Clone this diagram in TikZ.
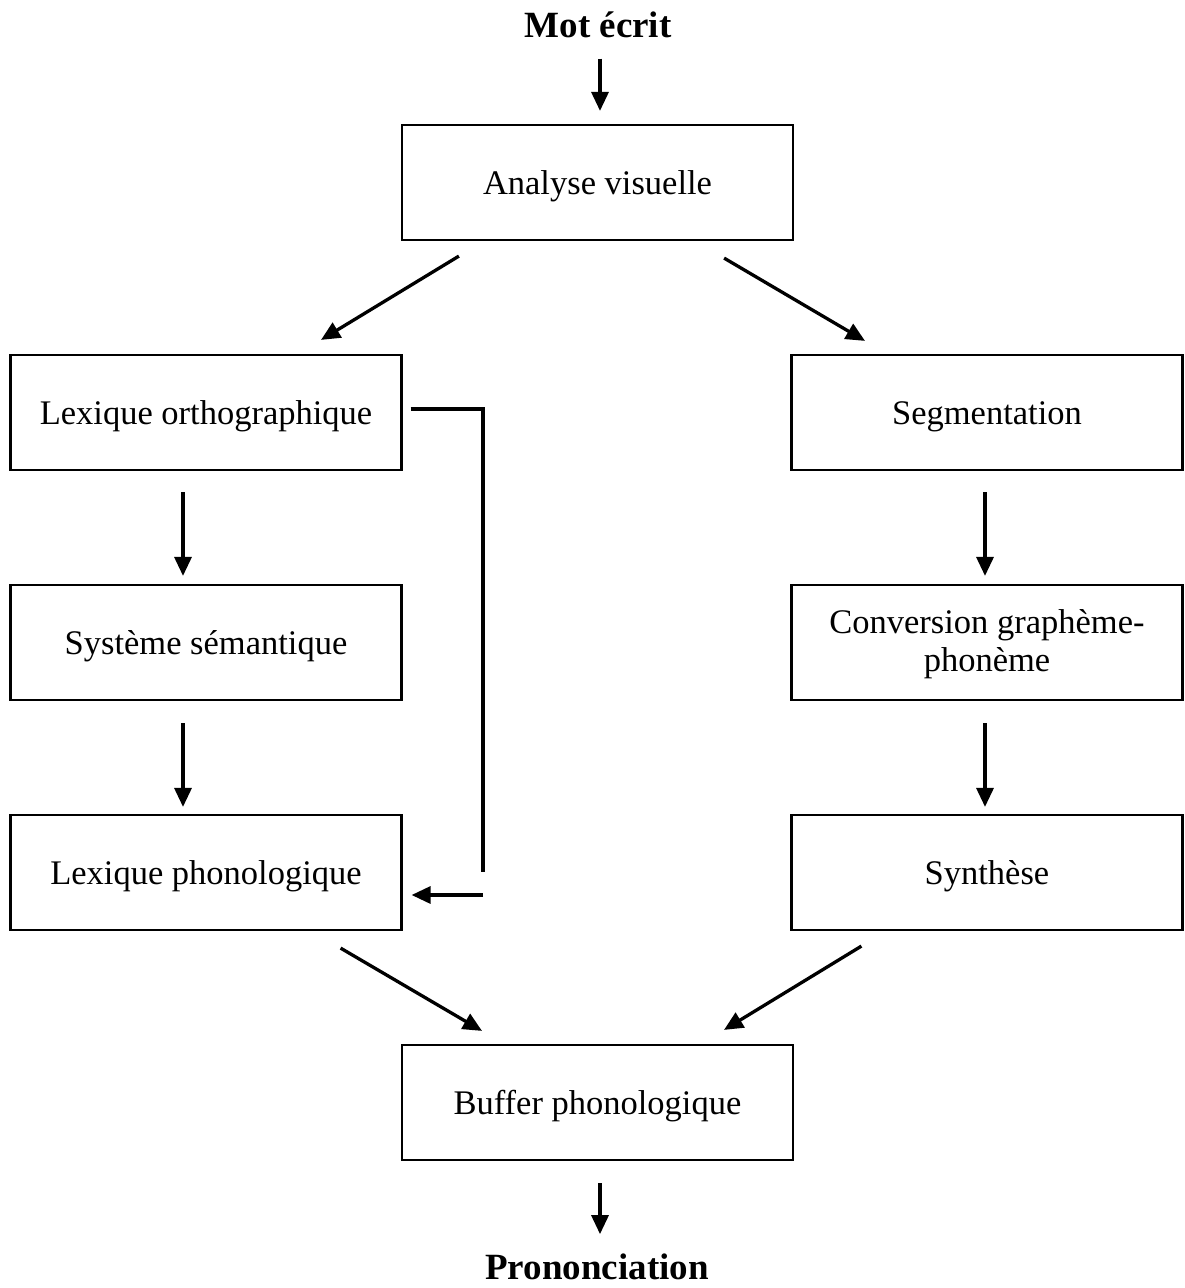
\documentclass[tikz,border=0pt]{standalone}
\usepackage{fontspec}
\setmainfont{Liberation Serif}
\usetikzlibrary{arrows.meta,calc}
\begin{document}
\begin{tikzpicture}[x=1pt,y=-1pt,
  box/.style={draw,line width=2.2pt,minimum width=391pt,minimum height=115pt,
    inner sep=0pt,align=center,font=\fontsize{34.5}{38}\selectfont},
  lbl/.style={inner sep=0pt,align=center,font=\fontsize{34.5}{38}\selectfont},
  title/.style={inner sep=0pt,anchor=base,font=\fontsize{37}{40}\selectfont\bfseries},
  plain/.style={line width=3.3pt},
  arr/.style={line width=3.3pt,-{Triangle[length=19pt,width=17pt]}}]
\useasboundingbox (0,0) rectangle (1185,1288);
\node[title] (mot) at (598,37) {Mot écrit};
\node[title] (pron) at (597,1279) {Prononciation};
\node[box] (ana) at (597.5,182.5) {};
\node[box] (lo) at (206,412.5) {};
\node[box] (seg) at (987,412.5) {};
\node[box] (ss) at (206,642.5) {};
\node[box] (conv) at (987,642.5) {};
\node[box] (lp) at (206,872.5) {};
\node[box] (syn) at (987,872.5) {};
\node[box] (buf) at (597.5,1102.5) {};
\node[lbl] (tana) at ([yshift=-4pt]ana.center) {Analyse visuelle};
\node[lbl] (tlo) at ([yshift=-4pt]lo.center) {Lexique orthographique};
\node[lbl] (tseg) at ([yshift=-4pt]seg.center) {Segmentation};
\node[lbl] (tss) at ([yshift=-4pt]ss.center) {Système sémantique};
\node[lbl] (tconv) at ([yshift=-2pt]conv.center) {Conversion graphème-\\phonème};
\node[lbl] (tlp) at ([yshift=-4pt]lp.center) {Lexique phonologique};
\node[lbl] (tsyn) at ([yshift=-4pt]syn.center) {Synthèse};
\node[lbl] (tbuf) at ([yshift=-4pt]buf.center) {Buffer phonologique};
% top and bottom
\draw[arr,shorten <=21pt,shorten >=13pt] ([xshift=2pt]mot.south) -- ([xshift=2.5pt]ana.north);
\draw[arr,shorten <=22pt,shorten >=19pt] ([xshift=2.5pt]buf.south) -- ([xshift=3pt]pron.north);
% diagonals
\draw[arr] ([shift={(58,15)}]ana.south west) -- ([shift={(115,-14)}]lo.north);
\draw[arr] ([shift={(-70,17)}]ana.south east) -- ([shift={(-122,-13)}]seg.north);
\draw[arr] ([shift={(-62,17)}]lp.south east) -- ([shift={(-115.5,-13)}]buf.north);
\draw[arr] ([shift={(71,15)}]syn.south west) -- ([shift={(126.5,-14)}]buf.north);
% verticals
\draw[arr,shorten <=21pt,shorten >=8pt] ([xshift=-23pt]lo.south) -- ([xshift=-23pt]ss.north);
\draw[arr,shorten <=22pt,shorten >=7pt] ([xshift=-23pt]ss.south) -- ([xshift=-23pt]lp.north);
\draw[arr,shorten <=21pt,shorten >=8pt] ([xshift=-2pt]seg.south) -- ([xshift=-2pt]conv.north);
\draw[arr,shorten <=22pt,shorten >=7pt] ([xshift=-2pt]conv.south) -- ([xshift=-2pt]syn.north);
% direct route
\coordinate (fb1) at (483,409);
\coordinate (fb2) at (483,872);
\coordinate (fb3) at (483,895);
\draw[plain] ([shift={(8,-3.5)}]lo.east) -- (fb1) -- (fb2);
\draw[arr] (fb3) -- ([shift={(9,22.5)}]lp.east);
\end{tikzpicture}
\end{document}
